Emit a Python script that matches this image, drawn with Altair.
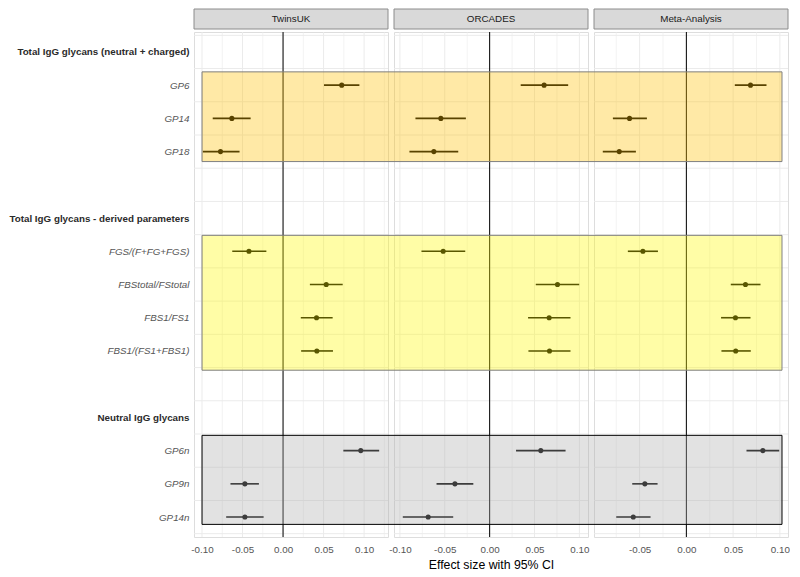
import json
import altair as alt
import pandas as pd

# ---------------- data ----------------
row_labels = ["Total IgG glycans (neutral + charged)", "GP6", "GP14", "GP18", "",
              "Total IgG glycans - derived parameters", "FGS/(F+FG+FGS)", "FBStotal/FStotal",
              "FBS1/FS1", "FBS1/(FS1+FBS1)", "",
              "Neutral IgG glycans", "GP6n", "GP9n", "GP14n"]
header_rows = [1, 6, 12]
items = ["GP6", "GP14", "GP18", "FGS/(F+FG+FGS)", "FBStotal/FStotal", "FBS1/FS1",
         "FBS1/(FS1+FBS1)", "GP6n", "GP9n", "GP14n"]
item_rows = [2, 3, 4, 7, 8, 9, 10, 13, 14, 15]
panels = ["TwinsUK", "ORCADES", "Meta-Analysis"]

twins_est = [0.0724, -0.0632, -0.0772, -0.0421, 0.0533, 0.0413, 0.0417, 0.0959, -0.0471, -0.0471]
twins_lo = [0.0505, -0.0868, -0.0990, -0.0627, 0.0331, 0.0219, 0.0223, 0.0744, -0.0649, -0.0702]
twins_hi = [0.0942, -0.0400, -0.0537, -0.0206, 0.0736, 0.0612, 0.0616, 0.1186, -0.0298, -0.0240]

orc_est = [0.0607, -0.0544, -0.0622, -0.0518, 0.0756, 0.0663, 0.0667, 0.0570, -0.0387, -0.0685]
orc_lo = [0.0346, -0.0827, -0.0894, -0.0760, 0.0514, 0.0428, 0.0432, 0.0294, -0.0592, -0.0968]
orc_hi = [0.0875, -0.0265, -0.0350, -0.0272, 0.0998, 0.0901, 0.0901, 0.0846, -0.0182, -0.0406]

meta_est = [0.0686, -0.0608, -0.0718, -0.0465, 0.0632, 0.0525, 0.0528, 0.0818, -0.0444, -0.0568]
meta_lo = [0.0518, -0.0786, -0.0894, -0.0626, 0.0475, 0.0371, 0.0375, 0.0643, -0.0579, -0.0750]
meta_hi = [0.0857, -0.0422, -0.0540, -0.0304, 0.0793, 0.0686, 0.0689, 0.0993, -0.0308, -0.0383]

# shaded group bands (row units)
group_top = [1.6, 6.52, 12.54]
group_bottom = [4.3, 10.58, 15.22]
group_fill = ["#FFBF00", "#FFF900", "#ABABAB"]
group_stroke = ["#7F7F7F", "#7F7F7F", "#000000"]

# axis settings per panel
domains = [[-0.1099, 0.1295], [-0.1066, 0.1096], [-0.0988, 0.1087]]
major_ticks = [[-0.10, -0.05, 0.0, 0.05, 0.10],
               [-0.10, -0.05, 0.0, 0.05, 0.10],
               [-0.05, 0.0, 0.05, 0.10]]
minor_ticks = [[-0.075, -0.025, 0.025, 0.075, 0.125],
               [-0.075, -0.025, 0.025, 0.075],
               [-0.075, -0.025, 0.025, 0.075]]
grid_rows = [0.5 + i for i in range(16)]

# ---------------- layout ----------------
W, H, S = 194, 505, 6
FONT = "Liberation Sans"
GRID = "#EBEBEB"

yscale = alt.Scale(domain=[0.4, 15.6], reverse=True, nice=False, zero=False)

lab_arr = json.dumps([""] + row_labels)
hdr_test = " || ".join(f"datum.value == {r}" for r in header_rows)
yaxis_main = alt.Axis(
    values=list(range(1, 16)),
    labelExpr=f"{lab_arr}[datum.value]",
    title=None, ticks=False, domain=False, grid=False,
    labelPadding=5, labelFontSize=9.8, labelFont=FONT, labelLimit=400,
    labelFontWeight={"condition": {"test": hdr_test, "value": "bold"}, "value": "normal"},
    labelFontStyle={"condition": {"test": hdr_test, "value": "normal"}, "value": "italic"},
    labelColor={"condition": {"test": hdr_test, "value": "#2B2B2B"}, "value": "#555555"},
)

est_sets = [(twins_est, twins_lo, twins_hi), (orc_est, orc_lo, orc_hi), (meta_est, meta_lo, meta_hi)]


def make_panel(i):
    name = panels[i]
    est, lo, hi = est_sets[i]
    df = pd.DataFrame({"item": items, "row": item_rows, "est": est, "lo": lo, "hi": hi})
    xscale = alt.Scale(domain=domains[i], nice=False, zero=False)
    xaxis = alt.Axis(
        values=major_ticks[i],
        labelExpr="(datum.value < -1e-9 ? '-' : '') + format(abs(datum.value), '.2f')",
        title="Effect size with 95% CI" if i == 1 else None,
        ticks=False, domain=False, grid=False,
        labelPadding=7, labelFontSize=9.8, labelColor="#555555", labelFont=FONT,
        titleFontSize=12.3, titleColor="#000000", titleFontWeight="normal", titleFont=FONT,
        titlePadding=5,
    )
    yaxis = yaxis_main if i == 0 else None

    def X(f):
        return alt.X(f, type="quantitative", scale=xscale, axis=xaxis)

    def Y(f):
        return alt.Y(f, type="quantitative", scale=yscale, axis=yaxis)

    hgrid = alt.Chart(pd.DataFrame({"row": grid_rows})).mark_rule(
        color=GRID, strokeWidth=1).encode(y=Y("row"), x=alt.value(0), x2=alt.value(W))
    vmaj = alt.Chart(pd.DataFrame({"xv": major_ticks[i]})).mark_rule(
        color=GRID, strokeWidth=1).encode(x=X("xv"), y=alt.value(0), y2=alt.value(H))
    vmin = alt.Chart(pd.DataFrame({"xv": minor_ticks[i]})).mark_rule(
        color=GRID, strokeWidth=0.6).encode(x=X("xv"), y=alt.value(0), y2=alt.value(H))
    zero = alt.Chart(pd.DataFrame({"xv": [0.0]})).mark_rule(
        color="#000000", strokeWidth=1).encode(x=X("xv"), y=alt.value(0), y2=alt.value(H))
    bars = alt.Chart(df).mark_rule(color="#000000", strokeWidth=1.6).encode(
        x=X("lo"), x2="hi:Q", y=Y("row"))
    pts = alt.Chart(df).mark_circle(color="#000000", size=26, opacity=1).encode(
        x=X("est"), y=Y("row"))
    one = pd.DataFrame({"p": [name]})
    strip = alt.Chart(one).mark_rect(fill="#D9D9D9", stroke="#8C8C8C", strokeWidth=1).encode(
        x=alt.value(0), x2=alt.value(W), y=alt.value(-23), y2=alt.value(-3))
    strip_txt = alt.Chart(one).mark_text(
        font=FONT, fontSize=9.8, color="#1A1A1A", baseline="middle", align="center").encode(
        x=alt.value(W / 2), y=alt.value(-13), text="p:N")
    layers = [hgrid, vmaj, vmin, zero, bars, pts, strip, strip_txt]

    if i == 2:
        # shaded group bands span all three panels; drawn in the last panel so they sit on top
        d1 = domains[0]
        left = (-0.10 - d1[0]) / (d1[1] - d1[0]) * W - 2 * (W + S)
        right = W - 6
        bands = pd.DataFrame({"top": group_top, "bottom": group_bottom,
                              "fill": group_fill, "stroke": group_stroke})
        band = alt.Chart(bands).mark_rect(fillOpacity=0.35, strokeOpacity=1, strokeWidth=1).encode(
            y=Y("top"), y2="bottom:Q",
            x=alt.value(left), x2=alt.value(right),
            fill=alt.Fill("fill:N", scale=None, legend=None),
            stroke=alt.Stroke("stroke:N", scale=None, legend=None),
        )
        layers.append(band)

    return alt.layer(*layers).properties(width=W, height=H)


chart = alt.hconcat(*[make_panel(i) for i in range(3)], spacing=S, bounds="flush").resolve_scale(
    x="independent", y="shared"
).properties(padding=0).configure_view(stroke=None).configure(font=FONT, background="white")

chart.save("out.html", embed_options={"renderer": "svg", "actions": False})
